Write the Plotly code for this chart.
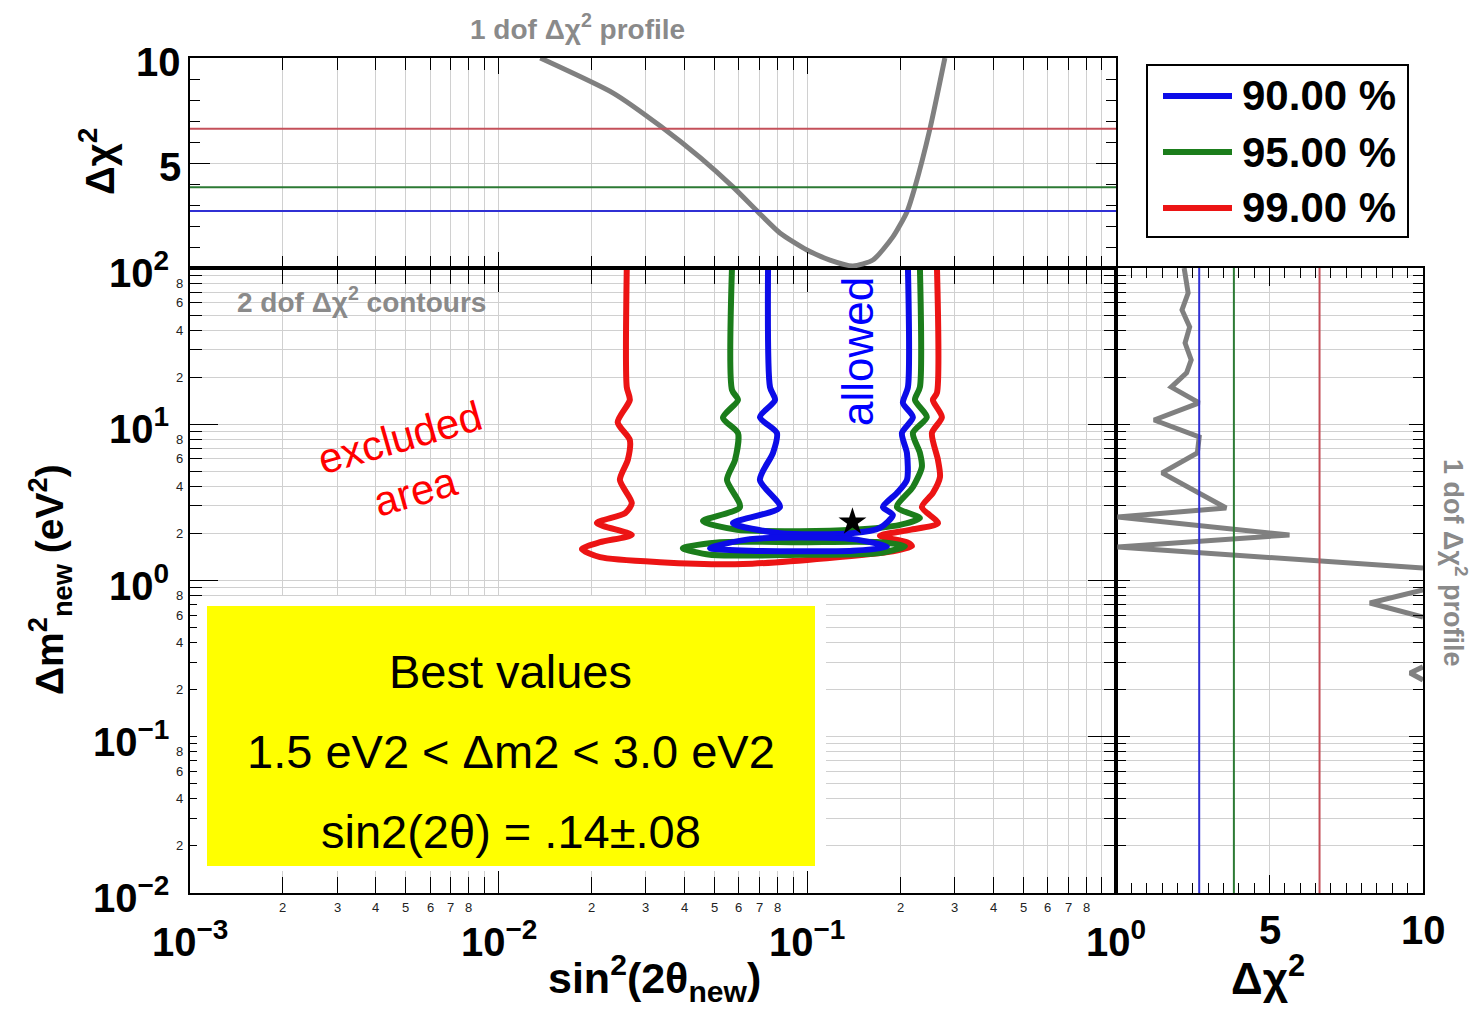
import numpy as np
import plotly.graph_objects as go

W, H = 1478, 1010
FONT = "Liberation Sans, Arial, Helvetica, sans-serif"

# ---------------- confidence levels ----------------
cl_names = ["90.00 %", "95.00 %", "99.00 %"]
cl_dchi2_1dof = [2.71, 3.84, 6.63]
cl_colors = ["#0c0ce8", "#1b7d1b", "#ec1414"]
cl_line_colors = ["#3030d4", "#2c7a34", "#c4505a"]

# ---------------- 2-dof contours: sin^2(2theta) vs dm^2 [eV^2] ----------------
c99_sin2 = [0.0260, 0.0260, 0.0266, 0.0243, 0.0266, 0.0262, 0.0247, 0.0270, 0.0257, 0.0208,
            0.0270, 0.0213, 0.0186, 0.0213, 0.0333, 0.0619, 0.1157, 0.1893, 0.2182, 0.2102,
            0.1718, 0.2150, 0.2650, 0.2350, 0.2551, 0.2690, 0.2650, 0.2533, 0.2729, 0.2551,
            0.2630, 0.2630]
c99_dm2 = [100, 17.3, 14.3, 10.3, 7.93, 5.90, 4.40, 3.13, 2.70, 2.33,
           1.96, 1.76, 1.59, 1.41, 1.31, 1.275, 1.39, 1.54, 1.66, 1.76,
           1.93, 2.11, 2.33, 2.95, 3.63, 4.60, 5.90, 8.79, 11.1, 14.3,
           15.9, 100]

c95_sin2 = [0.0570, 0.0570, 0.0596, 0.0533, 0.0596, 0.0583, 0.0549, 0.0605, 0.0459, 0.0592,
            0.0946, 0.1405, 0.1995, 0.2316, 0.1951, 0.2198, 0.2350, 0.2316, 0.2198, 0.2439,
            0.2232, 0.2316, 0.2316]
c95_dm2 = [100, 16.6, 14.3, 11.0, 8.79, 5.90, 4.40, 2.95, 2.40, 2.11,
           2.07, 2.11, 2.27, 2.51, 2.95, 3.97, 5.33, 6.55, 8.79, 11.1,
           14.3, 17.3, 100]
c95_island_sin2 = [0.0395, 0.0521, 0.0946, 0.1718, 0.2071, 0.1718, 0.0946, 0.0484, 0.0395]
c95_island_dm2 = [1.61, 1.76, 1.76, 1.76, 1.66, 1.50, 1.46, 1.46, 1.61]

c90_sin2 = [0.0746, 0.0757, 0.0786, 0.0702, 0.0797, 0.0774, 0.0702, 0.0815, 0.0574, 0.0815,
            0.1405, 0.1718, 0.1893, 0.1757, 0.1951, 0.2102, 0.2102, 0.2025, 0.2198, 0.2040,
            0.2118, 0.2118]
c90_dm2 = [100, 17.3, 14.3, 11.1, 8.79, 6.55, 4.40, 2.95, 2.33, 2.01,
           2.01, 2.17, 2.63, 2.95, 3.63, 4.40, 6.55, 8.79, 11.1, 13.7,
           17.3, 100]
c90_island_sin2 = [0.0484, 0.0652, 0.1405, 0.1811, 0.1405, 0.0652, 0.0484]
c90_island_dm2 = [1.61, 1.84, 1.84, 1.64, 1.55, 1.55, 1.61]

# ---------------- 1-dof profiles ----------------
prof_sin2 = [0.01364, 0.0235, 0.0334, 0.0451, 0.0574, 0.0692, 0.0815, 0.0997, 0.1184,
             0.1405, 0.1631, 0.1893, 0.2102, 0.2232, 0.2495, 0.2790]
prof_sin2_dchi2 = [10.0, 8.33, 6.76, 5.24, 3.86, 2.67, 1.67, 0.86, 0.38,
                   0.10, 0.38, 1.48, 2.67, 3.86, 6.62, 10.0]

prof_dm2 = [100, 69.2, 53.9, 41.9, 33.1, 25.8, 21.3, 17.3, 13.7, 10.65,
            8.29, 6.55, 4.88, 3.63, 2.91, 2.55, 1.955, 1.64, 1.20, None,
            0.869, 0.718, 0.584, None, 0.28, 0.256, 0.231]
prof_dm2_dchi2 = [2.22, 2.35, 2.15, 2.40, 2.25, 2.45, 2.30, 1.80, 2.71, 1.24,
                  2.71, 2.65, 1.50, 2.71, 3.59, 0.05, 5.65, 0.05, 10.0, None,
                  10.0, 8.27, 10.0, None, 10.0, 9.58, 10.0]

# ---------------- best fit ----------------
best_sin2 = 0.14
best_sin2_err = 0.08
best_dm2 = 2.37
dm2_low, dm2_high = 1.5, 3.0

# ---------------- axis ticks ----------------
x_decades = [-3, -2, -1, 0]
y_decades = [-2, -1, 0, 1, 2]
x_minor_digits = [2, 3, 4, 5, 6, 7, 8]
y_minor_digits = [2, 4, 6, 8]
dchi2_ticks = [5, 10]


def px(p):
    return p / W


def py(p):
    return 1 - p / H


def minor_log(lo, hi):
    return [d * 10.0 ** e for e in range(lo, hi) for d in range(2, 10)]


def fmt_exp(e):
    return str(e).replace("-", "\u2212")


def label(text, x, y, xref="paper", yref="paper", xanchor="center", yanchor="middle", **kw):
    return dict(text=text, x=x, y=y, xref=xref, yref=yref, xanchor=xanchor,
                yanchor=yanchor, showarrow=False, **kw)


fig = go.Figure()

# contours: red first, blue on top
for xs, ys, k in [(c99_sin2, c99_dm2, 2),
                  (c95_sin2, c95_dm2, 1), (c95_island_sin2, c95_island_dm2, 1),
                  (c90_sin2, c90_dm2, 0), (c90_island_sin2, c90_island_dm2, 0)]:
    fig.add_trace(go.Scatter(x=xs, y=ys, mode="lines", name=cl_names[k],
                             line=dict(color=cl_colors[k], width=6, shape="spline", smoothing=0.7),
                             xaxis="x", yaxis="y", showlegend=False, hoverinfo="skip"))

fig.add_trace(go.Scatter(x=[best_sin2], y=[best_dm2], mode="markers",
                         marker=dict(symbol="star", size=21, color="black", line=dict(width=0)),
                         xaxis="x", yaxis="y", showlegend=False))

fig.add_trace(go.Scatter(x=prof_sin2, y=prof_sin2_dchi2, mode="lines",
                         line=dict(color="#808080", width=5, shape="spline", smoothing=0.6),
                         xaxis="x2", yaxis="y2", showlegend=False))

fig.add_trace(go.Scatter(x=prof_dm2_dchi2, y=prof_dm2, mode="lines", connectgaps=False,
                         line=dict(color="#808080", width=5),
                         xaxis="x3", yaxis="y3", showlegend=False))

grid = "#d0d0d0"
common = dict(showline=True, linecolor="black", linewidth=2, mirror="ticks", ticks="inside",
              tickcolor="black", tickwidth=1.2, showticklabels=False, zeroline=False,
              gridcolor=grid, gridwidth=1, showgrid=True)

main_x_dom = [px(190), px(1116)]
main_y_dom = [py(893), py(268)]
top_y_dom = [py(268), py(58)]
right_x_dom = [px(1116), px(1423)]

fig.update_layout(
    width=W, height=H, margin=dict(l=0, r=0, t=0, b=0),
    paper_bgcolor="white", plot_bgcolor="white",
    font=dict(family=FONT, color="black"),
    xaxis=dict(common, type="log", range=[-3, 0], domain=main_x_dom, anchor="y",
               tickvals=[10.0 ** e for e in x_decades], ticklen=24,
               minor=dict(tickvals=minor_log(-3, 0), ticklen=16, ticks="inside",
                          tickcolor="black", showgrid=True, gridcolor=grid)),
    yaxis=dict(common, type="log", range=[-2, 2], domain=main_y_dom, anchor="x",
               tickvals=[10.0 ** e for e in y_decades], ticklen=28,
               minor=dict(tickvals=minor_log(-2, 2), ticklen=12, ticks="inside",
                          tickcolor="black", showgrid=True, gridcolor=grid)),
    xaxis2=dict(common, type="log", range=[-3, 0], domain=main_x_dom, anchor="y2",
                tickvals=[10.0 ** e for e in x_decades], ticklen=16,
                minor=dict(tickvals=minor_log(-3, 0), ticklen=12, ticks="inside",
                           tickcolor="black", showgrid=True, gridcolor=grid)),
    yaxis2=dict(common, range=[0, 10], domain=top_y_dom, anchor="x2",
                tickvals=dchi2_ticks, ticklen=20,
                minor=dict(tickmode="linear", tick0=0, dtick=1, ticklen=10, ticks="inside",
                           tickcolor="black", showgrid=False)),
    xaxis3=dict(common, range=[0, 10], domain=right_x_dom, anchor="y3",
                tickvals=dchi2_ticks, ticklen=18,
                minor=dict(tickmode="linear", tick0=0, dtick=0.5, ticklen=10, ticks="inside",
                           tickcolor="black", showgrid=False)),
    yaxis3=dict(common, type="log", range=[-2, 2], domain=main_y_dom, anchor="x3",
                tickvals=[10.0 ** e for e in y_decades], ticklen=14,
                minor=dict(tickvals=minor_log(-2, 2), ticklen=10, ticks="inside",
                           tickcolor="black", showgrid=True, gridcolor=grid)),
)

shapes = []
# critical 1-dof levels on the profile panels
for v, c in zip(cl_dchi2_1dof, cl_line_colors):
    shapes.append(dict(type="line", xref="x2 domain", yref="y2", x0=0, x1=1, y0=v, y1=v,
                       line=dict(color=c, width=2)))
    shapes.append(dict(type="line", xref="x3", yref="y3 domain", x0=v, x1=v, y0=0, y1=1,
                       line=dict(color=c, width=2)))

# best-values box
shapes.append(dict(type="rect", xref="paper", yref="paper", x0=px(197), x1=px(826),
                   y0=py(871), y1=py(596), fillcolor="white", line=dict(width=0), layer="above"))
shapes.append(dict(type="rect", xref="paper", yref="paper", x0=px(207), x1=px(815),
                   y0=py(866), y1=py(606), fillcolor="#ffff00", line=dict(width=0), layer="above"))

# legend frame and line samples
shapes.append(dict(type="rect", xref="paper", yref="paper", x0=px(1147), x1=px(1408),
                   y0=py(237), y1=py(65), fillcolor="white", line=dict(color="black", width=2)))
ann = []
for i, (name, c) in enumerate(zip(cl_names, cl_colors)):
    yy = 96 + 56 * i
    shapes.append(dict(type="line", xref="paper", yref="paper", x0=px(1163), x1=px(1232),
                       y0=py(yy), y1=py(yy), line=dict(color=c, width=6)))
    ann.append(label(f"<b>{name}</b>", px(1240), py(yy), xanchor="left",
                     font=dict(size=42, color="black")))

big = dict(size=40, color="black")
small = dict(size=13, color="#222")

# main x labels
for e in x_decades:
    ann.append(label(f"<b>10<sup>{fmt_exp(e)}</sup></b>", e, py(912), xref="x",
                     yanchor="top", font=big))
for e in x_decades[:-1]:
    for d in x_minor_digits:
        ann.append(label(str(d), e + np.log10(d), py(907), xref="x", font=small))
# main y labels
for e in y_decades:
    ann.append(label(f"<b>10<sup>{fmt_exp(e)}</sup></b>", px(171), e, yref="y",
                     xanchor="right", yshift=-2, font=big))
for e in y_decades[:-1]:
    for d in y_minor_digits:
        ann.append(label(str(d), px(179), e + np.log10(d), yref="y", font=small))
# profile panel labels
for v in dchi2_ticks:
    ann.append(label(f"<b>{v}</b>", px(183), v, yref="y2", xanchor="right", yshift=-4,
                     font=big))
    ann.append(label(f"<b>{v}</b>", v, py(930), xref="x3", font=big))

grey = "#8a8a8a"
ann += [
    label("<b>sin<sup>2</sup>(2\u03b8<sub>new</sub>)</b>", px(654), py(978),
          font=dict(size=43, color="black")),
    label("<b>\u0394\u03c7<sup>2</sup></b>", px(1268), py(975), font=dict(size=44, color="black")),
    label("<b>\u0394m<sup>2</sup><sub>new</sub> (eV<sup>2</sup>)</b>", px(50), py(580),
          textangle=-90, font=dict(size=39, color="black")),
    label("<b>\u0394\u03c7<sup>2</sup></b>", px(97), py(162), textangle=-90,
          font=dict(size=40, color="black")),
    label("<b>1 dof \u0394\u03c7<sup>2</sup> profile</b>", px(577), py(27),
          font=dict(size=28, color=grey)),
    label("<b>2 dof \u0394\u03c7<sup>2</sup> contours</b>", px(235), py(300), xanchor="left",
          font=dict(size=28, color=grey)),
    label("<b>1 dof \u0394\u03c7<sup>2</sup> profile</b>", px(1455), py(562), textangle=90,
          font=dict(size=27, color=grey)),
    label("allowed", px(857), py(352), textangle=-90, font=dict(size=44, color="#0000ff")),
    label("excluded", px(400), py(438), textangle=-16, font=dict(size=42, color="#ff0000")),
    label("area", px(415), py(491), textangle=-16, font=dict(size=42, color="#ff0000")),
]

sin2_txt = f"{best_sin2:.2f}".lstrip("0")
err_txt = f"{best_sin2_err:.2f}".lstrip("0")
box_lines = ["Best values",
             f"{dm2_low:.1f} eV2 < \u0394m2 < {dm2_high:.1f} eV2",
             f"sin2(2\u03b8) = {sin2_txt}\u00b1{err_txt}"]
for i, t in enumerate(box_lines):
    ann.append(label(t, px(511), py(671 + 80 * i), font=dict(size=47, color="black")))

fig.update_layout(shapes=shapes, annotations=ann)
fig.write_html("out.html")
